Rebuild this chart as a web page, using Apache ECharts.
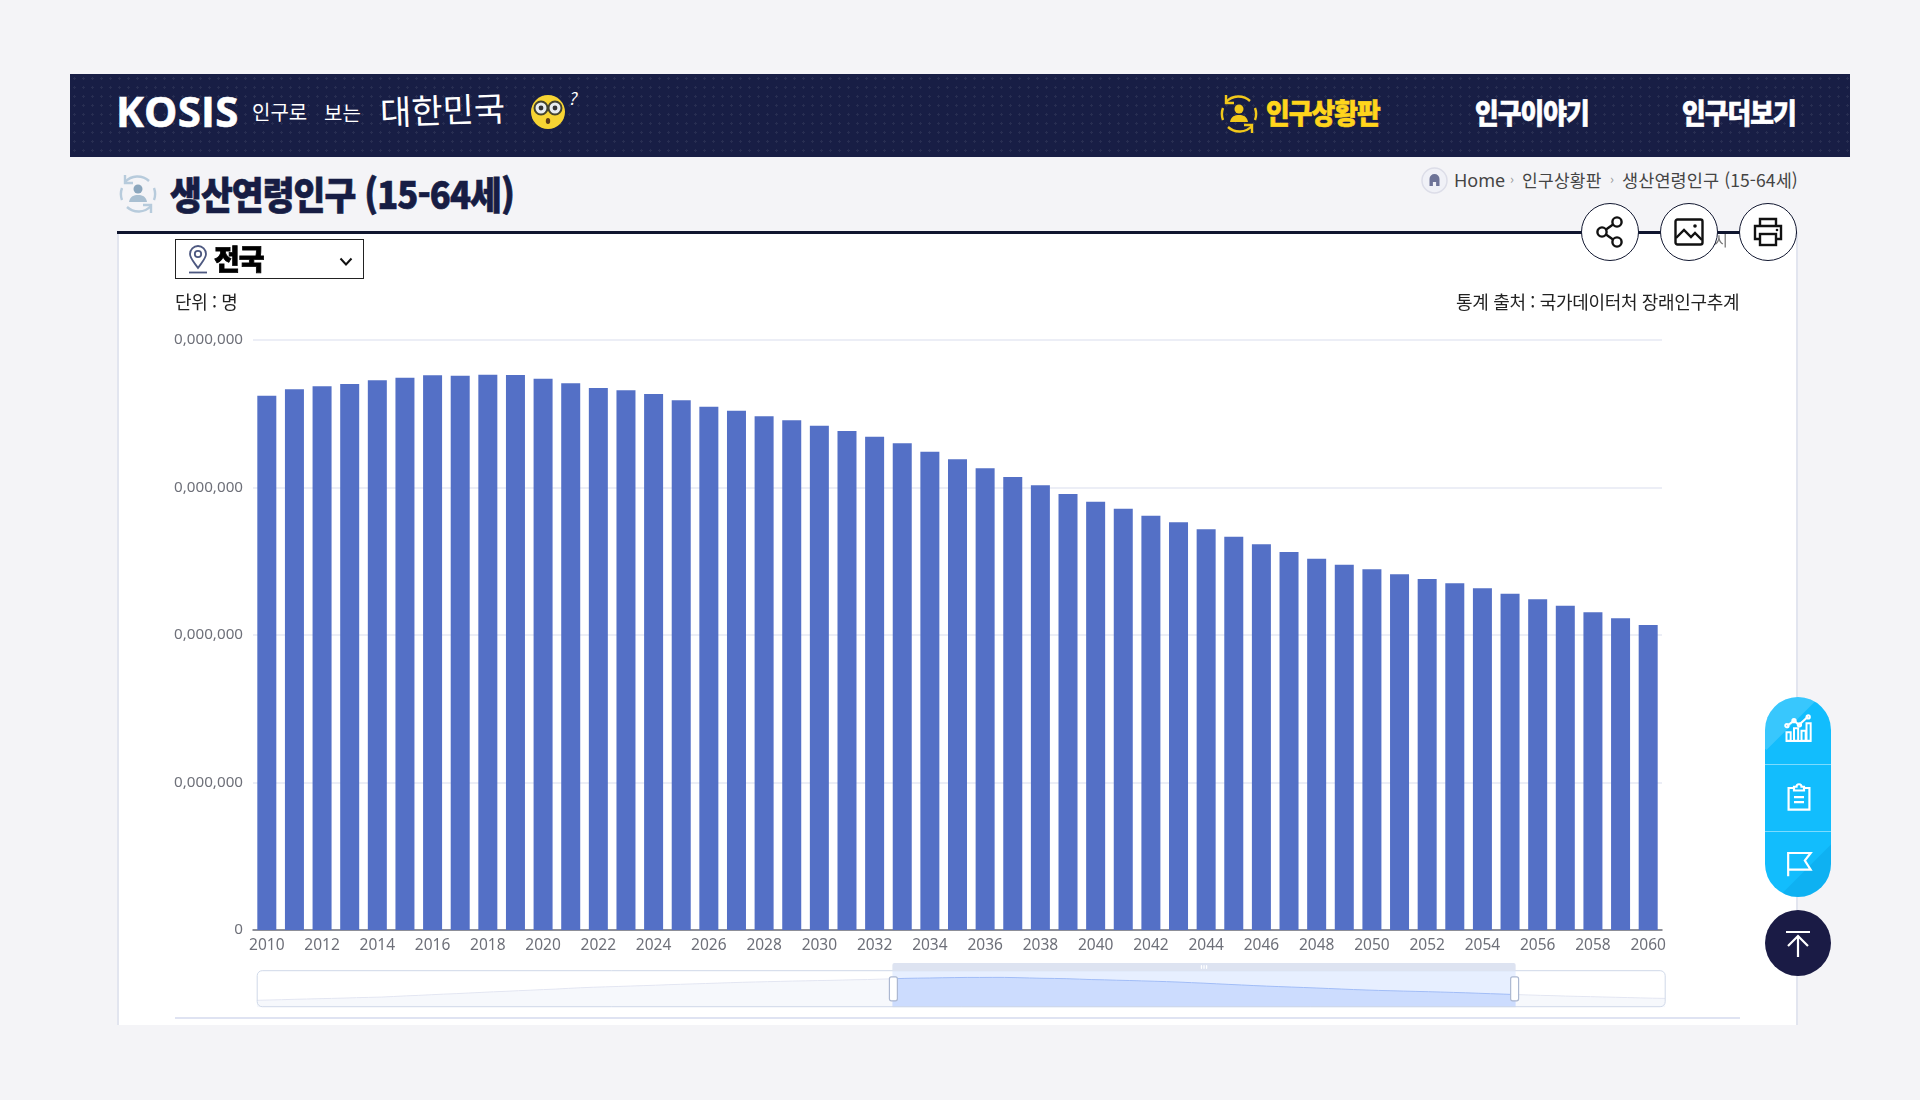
<!DOCTYPE html>
<html lang="ko">
<head>
<meta charset="utf-8">
<title>생산연령인구 (15-64세)</title>
<script src="https://cdn.jsdelivr.net/npm/echarts@6/dist/echarts.min.js"></script>
<style>
  html, body { margin: 0; padding: 0; width: 1920px; height: 1100px; overflow: hidden; background: #f4f4f7;
    font-family: "Noto Sans CJK KR", "Noto Sans", sans-serif; }
  .abs { position: absolute; white-space: nowrap; line-height: 1; }
  .cond { transform-origin: left center; }
  #header { position: absolute; left: 70px; top: 74px; width: 1780px; height: 83px; background-color: #181e45;
    background-image: radial-gradient(rgba(255,255,255,.07) 1px, transparent 1.2px); background-size: 9px 9px; }
  #panel { position: absolute; left: 117px; top: 232px; width: 1681px; height: 793px; background: #fff;
    border-left: 2px solid #e2e5ef; border-right: 2px solid #e2e5ef; box-sizing: border-box; }
  #rule { position: absolute; left: 117px; top: 231px; width: 1680px; height: 3px; background: #10162f; }
  #baseline { position: absolute; left: 175px; top: 1017px; width: 1565px; height: 2px; background: #dfe3f2; }
  #chart { position: absolute; left: 0; top: 0; width: 1920px; height: 1100px; }
  .round { position: absolute; width: 58px; height: 58px; border-radius: 50%; background: #fff; border: 1.5px solid #10162f;
    box-sizing: border-box; top: 203px; display: flex; align-items: center; justify-content: center; z-index: 3; }
  #select { position: absolute; left: 175px; top: 239px; width: 189px; height: 40px; box-sizing: border-box;
    border: 1.5px solid #222; background: #fff; z-index: 3; }
  #pill { position: absolute; left: 1765px; top: 697px; width: 66px; height: 200px; border-radius: 33px; background: #12bdfd;
    overflow: hidden; z-index: 3; }
  #pill .sep { position: absolute; left: 0; width: 66px; height: 1px; background: rgba(255,255,255,.45); }
  #pill svg { position: absolute; left: 19px; }
  #top { position: absolute; left: 1765px; top: 910px; width: 66px; height: 66px; border-radius: 50%; background: #1a1b45; z-index: 3; }
</style>
</head>
<body>
<div id="header"></div>
<div id="panel"></div>
<div id="rule"></div>
<div id="baseline"></div>

<!-- site header -->
<div class="abs" style="left:116px;top:90px;font-size:42px;font-weight:700;color:#fff;font-family:'Open Sans','Noto Sans',sans-serif;letter-spacing:.2px;-webkit-text-stroke:.6px #fff">KOSIS</div>
<div class="abs" style="left:252px;top:102px;font-size:20px;font-weight:400;color:#fff">인구로</div>
<div class="abs" style="left:324px;top:103px;font-size:20px;font-weight:400;color:#fff">보는</div>
<div class="abs" style="left:380px;top:92px;font-size:34px;font-weight:400;color:#fff;transform:rotate(-2deg)">대한민국</div>
<svg class="abs" style="left:530px;top:94px" width="36" height="36" viewBox="0 0 36 36">
  <circle cx="18" cy="18" r="17" fill="#f7d433"/>
  <circle cx="11" cy="14" r="6.5" fill="#e8ecef" stroke="#44432f" stroke-width="2"/>
  <circle cx="25" cy="14" r="6.5" fill="#e8ecef" stroke="#44432f" stroke-width="2"/>
  <circle cx="11" cy="14" r="2.4" fill="#333"/><circle cx="25" cy="14" r="2.4" fill="#333"/>
  <ellipse cx="18" cy="27" rx="2.2" ry="3" fill="#5b3a18"/>
</svg>
<div class="abs" style="left:568px;top:89px;font-size:17px;font-style:italic;color:#fff">?</div>

<svg class="abs" style="left:1219px;top:92px" width="40" height="44" viewBox="0 0 40 44" fill="none" stroke="#f2c81a" stroke-width="2.4">
  <path d="M7 10 A17 17 0 0 1 31 9"/><path d="M7 3v8h8"/>
  <path d="M33 34 A17 17 0 0 1 9 35"/><path d="M33 41v-8h-8"/>
  <path d="M4 28 A17 17 0 0 1 4 16"/><path d="M36 16 A17 17 0 0 1 36 28"/>
  <circle cx="20" cy="17" r="4.5" fill="#f2c81a" stroke="none"/>
  <path d="M11 30c1-6 5-7 9-7s8 1 9 7z" fill="#f2c81a" stroke="none"/>
</svg>
<div class="abs cond" style="left:1266px;top:98px;font-size:28px;font-weight:900;color:#ffd51c;letter-spacing:-1px;transform:scaleX(.92);-webkit-text-stroke:.6px #ffd51c">인구상황판</div>
<div class="abs cond" style="left:1475px;top:98px;font-size:28px;font-weight:900;color:#fff;letter-spacing:-1px;transform:scaleX(.92);-webkit-text-stroke:.6px #fff">인구이야기</div>
<div class="abs cond" style="left:1682px;top:98px;font-size:28px;font-weight:900;color:#fff;letter-spacing:-1px;transform:scaleX(.92);-webkit-text-stroke:.6px #fff">인구더보기</div>

<!-- page title and breadcrumb -->
<svg class="abs" style="left:118px;top:172px" width="40" height="44" viewBox="0 0 40 44" fill="none" stroke="#b7cbdc" stroke-width="2.4">
  <path d="M7 10 A17 17 0 0 1 31 9"/><path d="M7 3v8h8"/>
  <path d="M33 34 A17 17 0 0 1 9 35"/><path d="M33 41v-8h-8"/>
  <path d="M4 28 A17 17 0 0 1 4 16"/><path d="M36 16 A17 17 0 0 1 36 28"/>
  <circle cx="20" cy="17" r="4.5" fill="#8ba6bd" stroke="none"/>
  <path d="M11 30c1-6 5-7 9-7s8 1 9 7z" fill="#a9bfd1" stroke="none"/>
</svg>
<div class="abs cond" style="left:170px;top:174px;font-size:38px;font-weight:900;color:#171d44;letter-spacing:-1px;transform:scaleX(.91);-webkit-text-stroke:.7px #171d44">생산연령인구 (15-64세)</div>

<svg class="abs" style="left:1421px;top:167px" width="27" height="27" viewBox="0 0 27 27">
  <circle cx="13.5" cy="13.5" r="12.5" fill="#f0f1f7" stroke="#dcdde8" stroke-width="1.5"/>
  <path d="M8.5 19v-7a5 5 0 0 1 10 0v7h-3.4v-4h-3.2v4z" fill="#6d7397"/>
</svg>
<div class="abs" style="left:1454px;top:171px;font-size:18px;color:#444;font-family:'Noto Sans',sans-serif">Home</div>
<div class="abs" style="left:1510px;top:172px;font-size:13px;color:#999">›</div>
<div class="abs" style="left:1522px;top:171px;font-size:17px;color:#444;letter-spacing:.3px">인구상황판</div>
<div class="abs" style="left:1610px;top:172px;font-size:13px;color:#999">›</div>
<div class="abs" style="left:1622px;top:171px;font-size:17.5px;color:#444;letter-spacing:.1px">생산연령인구 (15-64세)</div>

<div class="abs" style="left:1714px;top:232px;font-size:15px;color:#777;z-index:1">시</div>
<div class="round" style="left:1581px">
  <svg width="28" height="32" viewBox="0 0 28 32" fill="none" stroke="#111" stroke-width="2.4">
    <circle cx="21" cy="6" r="4.6"/><circle cx="6" cy="16" r="4.6"/><circle cx="21" cy="26" r="4.6"/>
    <path d="M10 13.5l7-5M10 18.5l7 5"/>
  </svg>
</div>
<div class="round" style="left:1660px">
  <svg width="30" height="28" viewBox="0 0 30 28" fill="none" stroke="#111" stroke-width="2.4">
    <rect x="1.5" y="1.5" width="27" height="25" rx="2"/>
    <path d="M2 20l8-8 7 7 4-4 7 7"/><circle cx="21" cy="8" r="1.8" fill="#111" stroke="none"/>
  </svg>
</div>
<div class="round" style="left:1739px">
  <svg width="30" height="30" viewBox="0 0 30 30" fill="none" stroke="#111" stroke-width="2.4">
    <path d="M7 9V2h16v7"/><path d="M7 22H2V9h26v13h-5"/><rect x="7" y="17" width="16" height="11"/>
    <circle cx="24" cy="13" r="1.3" fill="#111" stroke="none"/>
  </svg>
</div>

<!-- region selector and captions -->
<div id="select">
  <svg class="abs" style="left:11px;top:5px" width="22" height="29" viewBox="0 0 22 29" fill="none" stroke="#4d5880" stroke-width="1.8">
    <path d="M11 23C6 16 3 13 3 9a8 8 0 0 1 16 0c0 4-3 7-8 14z"/><circle cx="11" cy="9" r="3.2"/><path d="M2 27.5h18"/>
  </svg>
  <div class="abs" style="left:38px;top:4px;font-size:28px;font-weight:900;color:#000;-webkit-text-stroke:.8px #000;letter-spacing:-1px">전국</div>
  <svg class="abs" style="left:163px;top:17px" width="14" height="10" viewBox="0 0 14 10" fill="none" stroke="#111" stroke-width="2"><path d="M1.5 1.5L7 7.5l5.5-6"/></svg>
</div>
<div class="abs" style="left:175px;top:292px;font-size:18px;color:#222;letter-spacing:-.4px;z-index:2">단위 : 명</div>
<div class="abs" style="left:1456px;top:292px;font-size:18px;color:#222;letter-spacing:-.33px;z-index:2">통계 출처 : 국가데이터처 장래인구추계</div>

<div id="chart"></div>

<!-- floating quick links -->
<div id="pill">
  <div style="position:absolute;left:-30px;top:-40px;width:70px;height:80px;background:rgba(255,255,255,.16);transform:rotate(45deg)"></div>
  <div style="position:absolute;right:-30px;bottom:-44px;width:70px;height:84px;background:rgba(0,130,200,.2);transform:rotate(45deg)"></div>
  <div class="sep" style="top:67px"></div><div class="sep" style="top:134px"></div>
  <svg style="top:17px" width="30" height="30" viewBox="0 0 36 36" fill="none" stroke="#fff" stroke-width="2.4">
    <path d="M4 14l8-6 6 5 11-10"/><circle cx="3.5" cy="14" r="2"/><circle cx="12" cy="8" r="2"/><circle cx="18.5" cy="13" r="2"/><circle cx="29" cy="3.5" r="2"/>
    <path d="M3 32V22h5v10zM12 32V17h5v15zM21 32V20h5v12zM27 32V11h5v21zM2 32.5h31"/>
  </svg>
  <svg style="top:84px" width="30" height="34" viewBox="0 0 36 34" fill="none" stroke="#fff" stroke-width="2.6">
    <path d="M11 5H5.5v26h25V5H25"/><path d="M12 8V3.5h3a3 3 0 0 1 6 0h3V8z"/><path d="M12 16h12M12 22h12"/>
  </svg>
  <svg style="top:151px" width="30" height="30" viewBox="0 0 36 34" fill="none" stroke="#fff" stroke-width="2.6">
    <path d="M5 33V5h27l-7 9 7 11H5"/>
  </svg>
</div>
<div id="top">
  <svg style="position:absolute;left:18px;top:18px" width="30" height="30" viewBox="0 0 30 30" fill="none" stroke="#fff" stroke-width="2.2">
    <path d="M3 4h24M15 29V9M5 18L15 8l10 10"/>
  </svg>
</div>

<script>
// 연앙 기준 생산연령인구(15-64세), 1959-2072
const years = [
  '1959','1960','1961','1962','1963','1964','1965','1966','1967','1968',
  '1969','1970','1971','1972','1973','1974','1975','1976','1977','1978',
  '1979','1980','1981','1982','1983','1984','1985','1986','1987','1988',
  '1989','1990','1991','1992','1993','1994','1995','1996','1997','1998',
  '1999','2000','2001','2002','2003','2004','2005','2006','2007','2008',
  '2009','2010','2011','2012','2013','2014','2015','2016','2017','2018',
  '2019','2020','2021','2022','2023','2024','2025','2026','2027','2028',
  '2029','2030','2031','2032','2033','2034','2035','2036','2037','2038',
  '2039','2040','2041','2042','2043','2044','2045','2046','2047','2048',
  '2049','2050','2051','2052','2053','2054','2055','2056','2057','2058',
  '2059','2060','2061','2062','2063','2064','2065','2066','2067','2068',
  '2069','2070','2071','2072'
];
const workingAgePopulation = [
  15000000,15300000,15600000,16000000,16300000,16600000,16900000,17200000,17600000,17900000,
  18200000,18800000,19400000,19900000,20500000,21100000,21600000,22200000,22800000,23400000,
  23900000,24500000,25000000,25600000,26100000,26800000,27400000,27900000,28300000,28700000,
  29100000,29500000,29900000,30400000,30800000,31200000,31600000,32000000,32400000,32800000,
  33100000,33400000,33700000,34000000,34200000,34500000,34700000,35000000,35300000,35500000,
  35900000,36220000,36660000,36860000,37020000,37270000,37440000,37610000,37580000,37640000,
  37630000,37380000,37060000,36750000,36590000,36340000,35910000,35480000,35210000,34830000,
  34560000,34190000,33830000,33440000,33000000,32430000,31910000,31300000,30720000,30150000,
  29560000,29040000,28560000,28090000,27640000,27170000,26660000,26150000,25630000,25170000,
  24770000,24450000,24120000,23800000,23510000,23170000,22800000,22420000,21990000,21540000,
  21130000,20680000,20300000,19900000,19600000,19200000,18900000,18600000,18300000,18000000,
  17700000,17400000,17100000,16900000
];
const valueTickLabels = ['0', '0,000,000', '0,000,000', '0,000,000', '0,000,000'];
const visibleFrom = '2010';
const visibleTo = '2060';

const chart = echarts.init(document.getElementById('chart'));
chart.setOption({
  animation: false,
  grid: { left: 253, top: 340, width: 1409, height: 590 },
  xAxis: {
    type: 'category',
    data: years,
    axisTick: { show: false },
    axisLine: { lineStyle: { color: '#6e7079', width: 1.5 } },
    axisLabel: {
      // 짝수 연도만 표시
      interval: (index, year) => Number(year) % 2 === 0,
      color: '#6e7079',
      fontSize: 15.5,
      margin: 8,
      fontFamily: 'Noto Sans'
    }
  },
  yAxis: {
    type: 'value',
    min: 0,
    max: 40000000,
    interval: 10000000,
    axisLine: { show: false },
    axisTick: { show: false },
    splitLine: { lineStyle: { color: '#e6e9f3', width: 1.5 } },
    axisLabel: {
      color: '#6e7079',
      fontSize: 15.2,
      margin: 10,
      padding: [0, 0, 6, 0],
      fontFamily: 'Noto Sans',
      formatter: (v) => valueTickLabels[v / 10000000]
    }
  },
  dataZoom: [{
    type: 'slider',
    xAxisIndex: 0,
    startValue: visibleFrom,
    endValue: visibleTo,
    left: 253.5,
    width: 1408.5,
    top: 963,
    height: 36.7,
    borderRadius: 5,
    borderColor: '#cfd8e8',
    moveHandleSize: 8,
    moveHandleStyle: { color: '#dde3f1', opacity: 1 },
    handleIcon: 'path://M2,0 L6,0 Q8,0 8,2 L8,22 Q8,24 6,24 L2,24 Q0,24 0,22 L0,2 Q0,0 2,0Z',
    handleSize: '65%',
    handleStyle: { color: '#fff', borderColor: '#acb8d1', borderWidth: 1.2 },
    dataBackground: {
      lineStyle: { color: '#e3e6f2', width: 1 },
      areaStyle: { color: '#d2dbee', opacity: 0.2 }
    },
    selectedDataBackground: {
      lineStyle: { color: '#a8c0f5', width: 1 },
      areaStyle: { color: '#8fb0f7', opacity: 0.3 }
    },
    showDetail: false,
    filterMode: 'filter'
  }],
  series: [{
    type: 'bar',
    data: workingAgePopulation,
    barWidth: 19,
    itemStyle: { color: '#5470c6' }
  }]
});
</script>
</body>
</html>
